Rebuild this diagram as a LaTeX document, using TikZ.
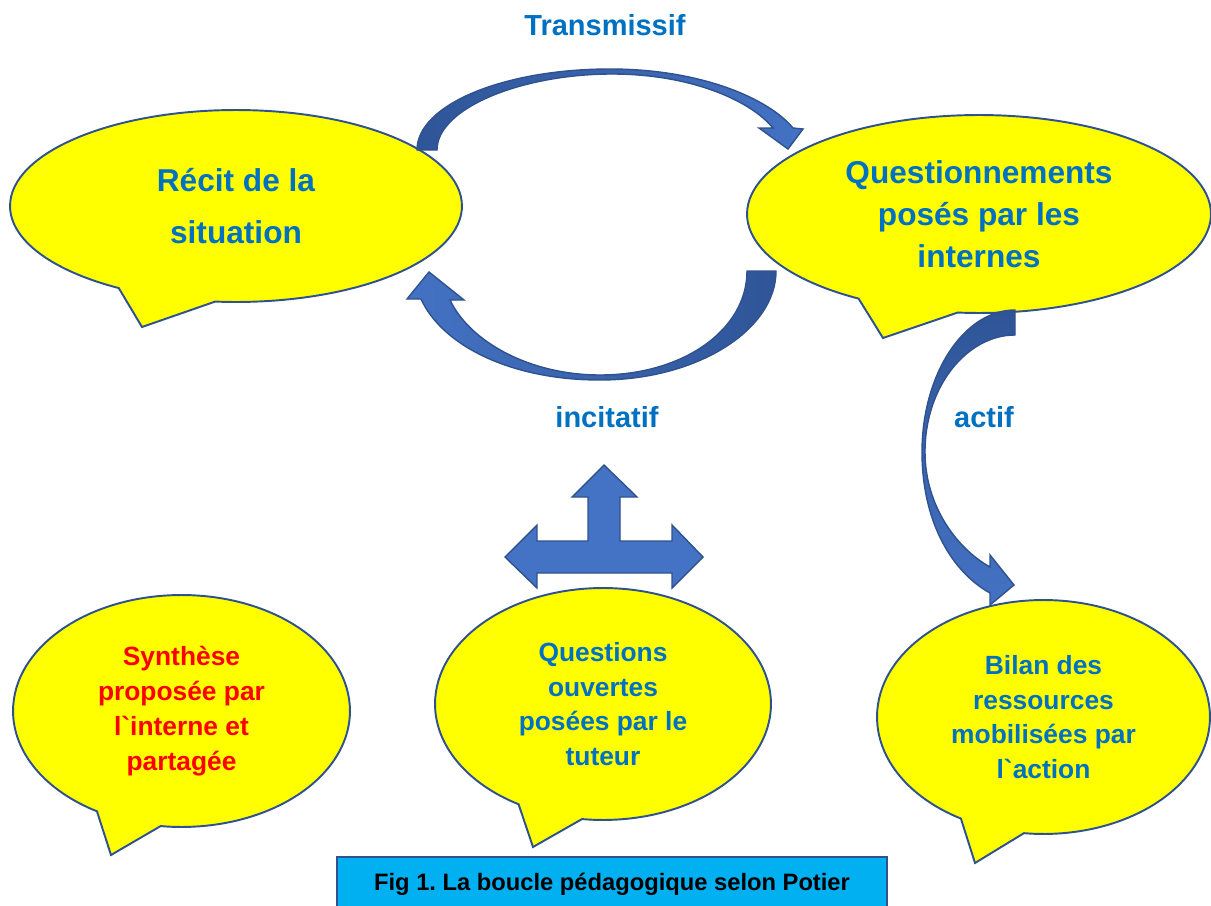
\documentclass[tikz,border=0pt]{standalone}
\usepackage{fontspec}
\setmainfont{Liberation Sans}
\usepackage{tikz}
\usetikzlibrary{shapes.callouts}
\definecolor{bubbleline}{HTML}{2F528F}
\definecolor{bubblefill}{HTML}{FFFF00}
\definecolor{arrowlight}{HTML}{4472C4}
\definecolor{arrowdark}{HTML}{2F5597}
\definecolor{textblue}{HTML}{0070C0}
\definecolor{capfill}{HTML}{00B0F0}
\frenchspacing

\begin{document}
\begin{tikzpicture}[
    x=0.02cm, y=-0.02cm,
    bubble/.style={ellipse callout, draw=bubbleline, fill=bubblefill, line width=1.1pt,
        align=center, inner sep=0pt},
    bigbubble/.style={bubble, text=textblue, callout pointer arc=26},
    smallbubble/.style={bubble, text=textblue, minimum height=4.64cm,
        callout pointer arc=23, font=\fontsize{15}{19.8}\selectfont\bfseries},
    mode/.style={font=\fontsize{16.5}{20}\selectfont\bfseries, text=textblue},
    blockarrow/.style={draw=bubbleline, line width=0.8pt},
]
\useasboundingbox (0,0) rectangle (1211,906);

% Speech bubbles
\node[bigbubble, minimum width=9.04cm, minimum height=3.84cm,
    font=\fontsize{18}{29.5}\selectfont\bfseries,
    callout absolute pointer={(142,327)}] (recit) at (236,206) {Récit de la\\situation};
\node[bigbubble, minimum width=9.28cm, minimum height=3.96cm,
    font=\fontsize{18}{23.8}\selectfont\bfseries,
    callout absolute pointer={(883,338)}] (quest) at (979,214)
    {Questionnements\\posés par les\\internes};
\node[smallbubble, minimum width=6.74cm, text=red,
    callout absolute pointer={(111,855)}] (synth) at (181.5,711)
    {Synthèse\\proposée par\\l\textasciigrave interne et\\partagée};
\node[smallbubble, minimum width=6.72cm,
    callout absolute pointer={(533,847)}] (ouvertes) at (603,704)
    {Questions\\ouvertes\\posées par le\\tuteur};
\node[smallbubble, minimum width=6.66cm, minimum height=4.68cm,
    callout absolute pointer={(975,863)}] (bilan) at (1043.5,717)
    {Bilan des\\ressources\\mobilisées par\\l\textasciigrave action};

% Curved arrows
\path[blockarrow, left color=arrowdark, right color=arrowlight]
  (417,150) .. controls (417,105) and (503,69) .. (610,69)
  .. controls (700,69) and (768,98) .. (793,128)
  -- (803,129) -- (788,149) -- (759,128) -- (773,128)
  .. controls (750,100) and (690,74) .. (612,74)
  .. controls (522,74) and (437,108) .. (437,150) -- cycle;
\path[blockarrow, left color=arrowlight, right color=arrowdark]
  (776,271) .. controls (776,330) and (697,380) .. (600,380)
  .. controls (510,380) and (442,345) .. (421,299)
  -- (407,299) -- (429,272) -- (464,300) -- (450,300)
  .. controls (470,342) and (530,375) .. (600,375)
  .. controls (683,375) and (747,330) .. (747,271) -- cycle;
\path[blockarrow, top color=arrowdark, bottom color=arrowlight]
  (1015,310) .. controls (964,310) and (922,374) .. (922,452)
  .. controls (922,522) and (952,572) .. (990,593)
  -- (990,605) -- (1014,585) -- (990,555) -- (990,567)
  .. controls (956,548) and (925,505) .. (925,452)
  .. controls (925,385) and (968,335) .. (1015,335) -- cycle;

% Three-way arrow
\path[blockarrow, fill=arrowlight]
  (604,465) -- (637,497) -- (620,497) -- (620,541) -- (672,541) -- (672,525)
  -- (703,557) -- (672,588) -- (672,573) -- (537,573) -- (537,588)
  -- (505,557) -- (537,525) -- (537,541) -- (588,541) -- (588,497)
  -- (572,497) -- cycle;

% Labels
\node[mode] (transm) at (605,25) {Transmissif};
\node[mode] (incit) at (607,417) {incitatif};
\node[mode] (actif) at (984,417) {actif};

% Caption
\node[draw=bubbleline, fill=capfill, line width=1.1pt, minimum width=11cm,
    minimum height=1.08cm, font=\fontsize{13.5}{16}\selectfont\bfseries]
    (caption) at (612,884) {Fig 1. La boucle pédagogique selon Potier};

\end{tikzpicture}
\end{document}
